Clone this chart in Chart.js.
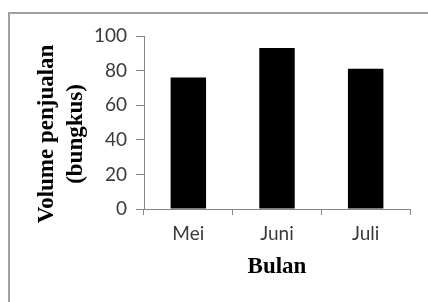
<!DOCTYPE html>
<html lang="id">
  <head>
    <meta charset="UTF-8" />
    <title>Volume penjualan</title>
    <script src="https://cdn.jsdelivr.net/npm/chart.js"></script>
    <style>
      html, body { margin: 0; padding: 0; background: #fff; overflow: hidden; }
      .wrap { position: relative; width: 428px; height: 302px; }
      .frame {
        position: absolute; left: 8px; top: 12px; width: 440px; height: 320px;
        border-left: 2px solid #a0a0a0; border-top: 2px solid #a0a0a0;
      }
      canvas { position: absolute; left: 0; top: 0; }
    </style>
  </head>
  <body>
    <div class="wrap">
      <div class="frame"></div>
      <canvas id="salesChart" width="428" height="302"></canvas>
    </div>

    <script>
      const months = ["Mei", "Juni", "Juli"];
      const volumes = [76, 93, 81];
      const yTitle = ["Volume penjualan    ", "(bungkus)    "];
      const xTitle = "Bulan";

      const axisGray = "#868686";
      const tickFont = { family: "Lato", size: 19 };
      const titleFont = { family: "Liberation Serif", size: 23, weight: "bold" };

      new Chart(document.getElementById("salesChart"), {
        type: "bar",
        data: {
          labels: months,
          datasets: [
            {
              data: volumes,
              backgroundColor: "#000",
              categoryPercentage: 1,
              barPercentage: 0.4,
            },
          ],
        },
        options: {
          responsive: false,
          animation: false,
          layout: { padding: { top: 36, right: 18, left: 0, bottom: 0 } },
          plugins: { legend: { display: false }, tooltip: { enabled: false } },
          scales: {
            x: {
              afterFit: (s) => { s.height = 93; },
              grid: { drawOnChartArea: false, tickLength: 6, color: axisGray },
              border: { color: axisGray },
              ticks: { color: "#3a3a3a", font: tickFont, padding: 7 },
              title: {
                display: true,
                text: xTitle,
                color: "#000",
                font: titleFont,
                padding: { top: 0, bottom: 21 },
              },
            },
            y: {
              min: 0,
              max: 100,
              afterFit: (s) => { s.width = 144; },
              grid: { drawOnChartArea: false, tickLength: 8, color: axisGray },
              border: { color: axisGray },
              ticks: { stepSize: 20, color: "#3a3a3a", font: tickFont, padding: 9 },
              title: {
                display: true,
                text: yTitle,
                color: "#000",
                font: { ...titleFont, lineHeight: 1.25 },
                padding: { top: 33, bottom: 0 },
              },
            },
          },
        },
      });
    </script>
  </body>
</html>
